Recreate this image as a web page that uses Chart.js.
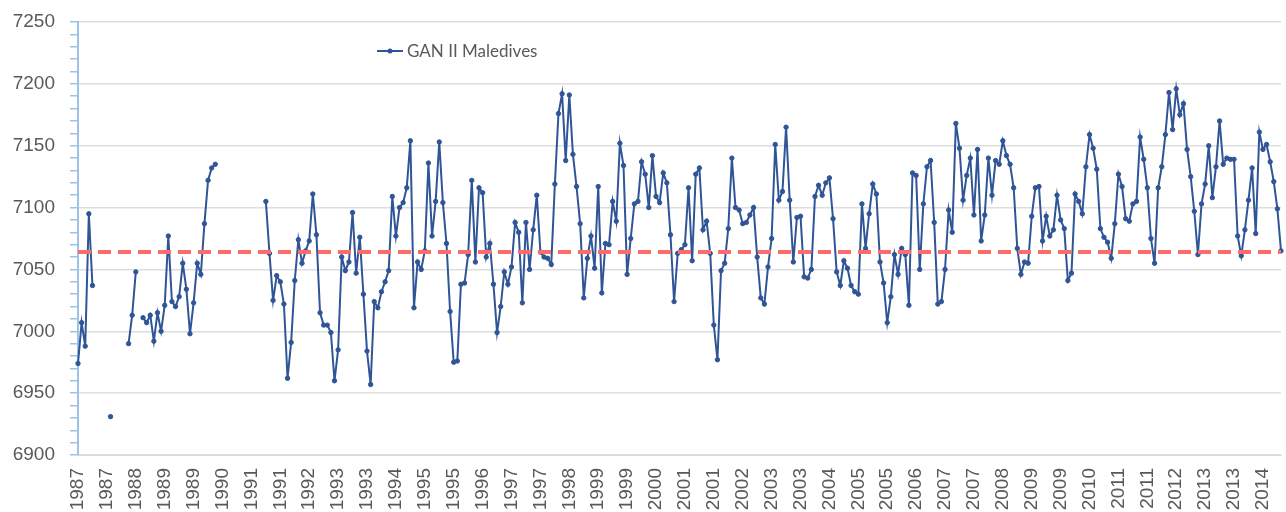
<!DOCTYPE html>
<html>
<head>
<meta charset="utf-8">
<title>GAN II Maledives</title>
<script src="https://cdn.jsdelivr.net/npm/chart.js@4.4.1/dist/chart.umd.min.js"></script>
<style>
    html, body { margin: 0; padding: 0; background: #ffffff; overflow: hidden; }
    #wrap { position: relative; width: 1286px; height: 512px; }
</style>
</head>
<body>
<div id="wrap"><canvas id="seaChart"></canvas></div>
<script>
// monthly values, Jan 1987 .. Oct 2014 (null = no data)
const startYear = 1987;
const seriesName = 'GAN II Maledives';
const gan2Maledives = [
    6974, 7007, 6988, 7095, 7037, null, null, null, null, 6931, null, null,
    null, null, 6990, 7013, 7048, null, 7011, 7007, 7013, 6992, 7015, 7000,
    7021, 7077, 7024, 7020, 7028, 7055, 7034, 6998, 7023, 7055, 7046, 7087,
    7122, 7132, 7135, null, null, null, null, null, null, null, null, null,
    null, null, null, null, 7105, 7063, 7025, 7045, 7040, 7022, 6962, 6991,
    7041, 7074, 7055, 7065, 7073, 7111, 7078, 7015, 7005, 7005, 6999, 6960,
    6985, 7060, 7049, 7056, 7096, 7047, 7076, 7030, 6984, 6957, 7024, 7019,
    7032, 7040, 7049, 7109, 7077, 7100, 7104, 7116, 7154, 7019, 7056, 7050,
    7065, 7136, 7077, 7105, 7153, 7104, 7071, 7016, 6975, 6976, 7038, 7039,
    7062, 7122, 7056, 7116, 7112, 7060, 7071, 7038, 6999, 7020, 7048, 7038,
    7052, 7088, 7080, 7023, 7088, 7050, 7082, 7110, 7064, 7060, 7059, 7054,
    7119, 7176, 7192, 7138, 7191, 7143, 7117, 7087, 7027, 7059, 7077, 7051,
    7117, 7031, 7071, 7070, 7105, 7089, 7152, 7134, 7046, 7075, 7103, 7105,
    7137, 7127, 7100, 7142, 7109, 7104, 7128, 7120, 7078, 7024, 7063, 7066,
    7070, 7116, 7057, 7127, 7132, 7082, 7089, 7063, 7005, 6977, 7049, 7055,
    7083, 7140, 7100, 7098, 7087, 7088, 7094, 7100, 7060, 7027, 7022, 7052,
    7075, 7151, 7106, 7113, 7165, 7106, 7056, 7092, 7093, 7044, 7043, 7050,
    7109, 7118, 7110, 7120, 7124, 7091, 7048, 7037, 7057, 7051, 7037, 7032,
    7030, 7103, 7067, 7095, 7119, 7111, 7056, 7039, 7007, 7028, 7062, 7046,
    7067, 7062, 7021, 7128, 7126, 7050, 7103, 7133, 7138, 7088, 7022, 7024,
    7050, 7098, 7080, 7168, 7148, 7106, 7126, 7140, 7094, 7147, 7073, 7094,
    7140, 7110, 7138, 7135, 7154, 7142, 7135, 7116, 7067, 7046, 7056, 7055,
    7093, 7116, 7117, 7073, 7093, 7077, 7082, 7110, 7090, 7083, 7041, 7047,
    7111, 7105, 7095, 7133, 7159, 7148, 7131, 7083, 7076, 7072, 7059, 7087,
    7127, 7117, 7091, 7089, 7103, 7105, 7157, 7139, 7116, 7075, 7055, 7116,
    7133, 7159, 7193, 7163, 7196, 7175, 7184, 7147, 7125, 7097, 7062, 7103,
    7119, 7150, 7108, 7133, 7170, 7135, 7140, 7139, 7139, 7077, 7061, 7082,
    7106, 7132, 7079, 7161, 7147, 7151, 7137, 7121, 7099, 7065
];
const meanLevel = 7064;
const yMin = 6900;
const yMax = 7250;
const labelEvery = 8; // one year label every 8 months, like the original axis

const monthLabels = gan2Maledives.map((v, i) => {
    const year = startYear + Math.floor(i / 12);
    const month = String(i % 12 + 1).padStart(2, '0');
    return year + '-' + month;
});
const meanLine = monthLabels.map(() => meanLevel);

const blue = '#2f5597';
const axisGray = '#595959';
const tickFont = { family: '"Liberation Sans", Arial, sans-serif', size: 19 };

// legend drawn inside the plot, top left
const insideLegend = {
    id: 'insideLegend',
    afterDraw(chart) {
        const ctx = chart.ctx;
        const ds = chart.data.datasets[1];
        const x = 377, y = 51;
        ctx.save();
        ctx.strokeStyle = ds.borderColor;
        ctx.lineWidth = 2;
        ctx.beginPath();
        ctx.moveTo(x, y);
        ctx.lineTo(x + 26, y);
        ctx.stroke();
        ctx.fillStyle = ds.borderColor;
        ctx.beginPath();
        ctx.arc(x + 13, y, 2.5, 0, Math.PI * 2);
        ctx.fill();
        ctx.fillStyle = axisGray;
        ctx.font = '17px Lato';
        ctx.textBaseline = 'middle';
        ctx.fillText(ds.label, x + 30, y + 1);
        ctx.restore();
    }
};

const chartEl = document.getElementById('seaChart');
new Chart(chartEl, {
    type: 'line',
    data: {
        labels: monthLabels,
        datasets: [
            {
                label: 'mean',
                data: meanLine,
                borderColor: '#ff6b6b',
                borderWidth: 4,
                borderDash: [13, 7],
                pointRadius: 0,
                order: 0
            },
            {
                label: seriesName,
                data: gan2Maledives,
                borderColor: blue,
                backgroundColor: blue,
                borderWidth: 2,
                pointRadius: 2.2,
                pointBorderWidth: 1,
                pointBorderColor: blue,
                pointBackgroundColor: blue,
                spanGaps: false,
                tension: 0,
                order: 1
            }
        ]
    },
    options: {
        responsive: true,
        maintainAspectRatio: false,
        animation: false,
        layout: {
            padding: { top: 22, left: 11, right: 0, bottom: 0 }
        },
        plugins: {
            legend: { display: false },
            tooltip: { enabled: false }
        },
        scales: {
            x: {
                offset: false,
                grid: { display: false, drawTicks: false },
                border: { color: '#d9d9d9', width: 1 },
                ticks: {
                    autoSkip: false,
                    minRotation: 90,
                    maxRotation: 90,
                    padding: 13,
                    color: axisGray,
                    font: tickFont,
                    callback: function (value, index) {
                        return index % labelEvery === 0 ? this.getLabelForValue(value).slice(0, 4) : '';
                    }
                },
                afterFit: function (scale) {
                    scale.height = 57;
                    scale.paddingLeft = 0;
                    scale.paddingRight = 0;
                }
            },
            y: {
                min: yMin,
                max: yMax,
                grid: {
                    color: (c) => (c.tick && c.tick.value % 50 === 0) ? '#dedede' : 'rgba(0,0,0,0)',
                    lineWidth: 1.5,
                    tickColor: '#9dc3e6',
                    tickLength: 8
                },
                border: { color: '#9dc3e6', width: 2 },
                ticks: {
                    stepSize: 10,
                    autoSkip: false,
                    padding: 15,
                    color: axisGray,
                    font: tickFont,
                    callback: (value) => value % 50 === 0 ? value : ''
                },
                afterFit: function (scale) {
                    scale.width = 67;
                    scale.paddingTop = 0;
                    scale.paddingBottom = 0;
                }
            }
        }
    },
    plugins: [insideLegend]
});
</script>
</body>
</html>
